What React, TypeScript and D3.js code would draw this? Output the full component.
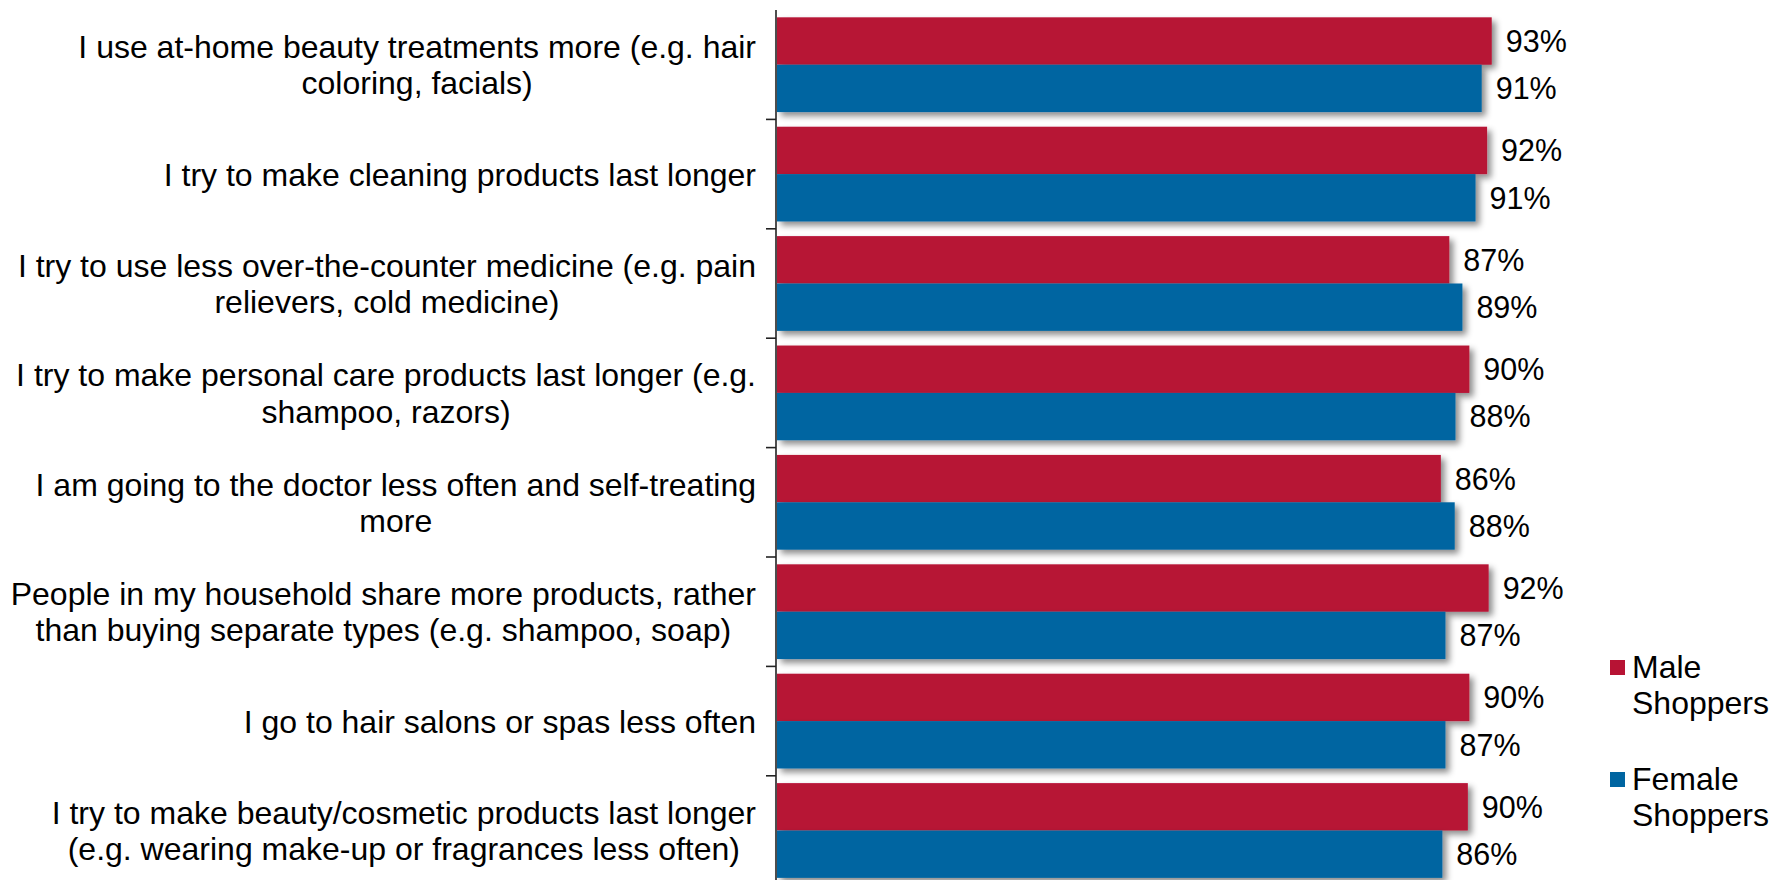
import React, { useEffect, useRef } from "react";
import * as d3 from "d3";

const categories = [
  "I use at-home beauty treatments more (e.g. hair\ncoloring, facials)",
  "I try to make cleaning products last longer",
  "I try to use less over-the-counter medicine (e.g. pain\nrelievers, cold medicine)",
  "I try to make personal care products last longer (e.g.\nshampoo, razors)",
  "I am going to the doctor less often and self-treating\nmore",
  "People in my household share more products, rather\nthan buying separate types (e.g. shampoo, soap)",
  "I go to hair salons or spas less often",
  "I try to make beauty/cosmetic products last longer\n(e.g. wearing make-up or fragrances less often)",
];
const maleValues = [92.7, 92.1, 87.2, 89.8, 86.1, 92.3, 89.8, 89.6];
const femaleValues = [91.4, 90.6, 88.9, 88.0, 87.9, 86.7, 86.7, 86.3];
const maleLabels = ["93%", "92%", "87%", "90%", "86%", "92%", "90%", "90%"];
const femaleLabels = ["91%", "91%", "89%", "88%", "88%", "87%", "87%", "86%"];
const seriesKeys = ["male", "female"];
const seriesNames = ["Male\nShoppers", "Female\nShoppers"];
const seriesColors = ["#B71334", "#0065A1"];
const xDomain = [0, 100];

const W = 1773;
const H = 880;
const FONT = "'Liberation Sans', Arial, sans-serif";

export default function App() {
  const ref = useRef<SVGSVGElement | null>(null);

  useEffect(() => {
    const svg = d3.select(ref.current);
    svg.selectAll("*").remove();

    const step = 109.4;
    const top = 10;
    const y = d3
      .scaleBand<string>()
      .domain(categories)
      .range([top, top + categories.length * step])
      .paddingInner(0.134)
      .paddingOuter(0.067);
    const sub = d3.scaleBand<string>().domain(seriesKeys).range([0, y.bandwidth()]);
    const x = d3.scaleLinear().domain(xDomain).range([777, 1548]);
    const color = d3.scaleOrdinal<string, string>().domain(seriesKeys).range(seriesColors);

    const defs = svg.append("defs");
    const f = defs
      .append("filter")
      .attr("id", "shadow")
      .attr("x", "-5%")
      .attr("y", "-30%")
      .attr("width", "115%")
      .attr("height", "180%");
    f.append("feDropShadow")
      .attr("dx", 4)
      .attr("dy", 4)
      .attr("stdDeviation", 3)
      .attr("flood-color", "#000")
      .attr("flood-opacity", 0.45);

    const rows = categories.map((c, i) => ({
      c,
      vals: [
        { key: "male", v: maleValues[i], label: maleLabels[i] },
        { key: "female", v: femaleValues[i], label: femaleLabels[i] },
      ],
    }));

    const g = svg
      .append("g")
      .selectAll("g")
      .data(rows)
      .join("g")
      .attr("transform", (d) => `translate(0,${y(d.c)})`);

    g.selectAll("rect")
      .data((d) => d.vals)
      .join("rect")
      .attr("x", x(0))
      .attr("y", (d) => sub(d.key)!)
      .attr("width", (d) => x(d.v) - x(0))
      .attr("height", sub.bandwidth())
      .attr("fill", (d) => color(d.key))
      .attr("filter", "url(#shadow)");

    g.selectAll("text")
      .data((d) => d.vals)
      .join("text")
      .attr("x", (d) => x(d.v) + 14)
      .attr("y", (d) => sub(d.key)! + sub.bandwidth() / 2 + 10.9)
      .attr("font-family", FONT)
      .attr("font-size", 30.5)
      .attr("fill", "#000")
      .text((d) => d.label);

    const axis = svg.append("g").attr("stroke", "#222").attr("stroke-width", 1.6);
    axis.append("line").attr("x1", 776).attr("x2", 776).attr("y1", top).attr("y2", H + 20);
    d3.range(1, categories.length + 1).forEach((i) => {
      const yy = top + i * y.step();
      axis.append("line").attr("x1", 766).attr("x2", 776).attr("y1", yy).attr("y2", yy);
    });

    const lineH = 36.5;
    const catFs = 32;
    const rightEdge = 756;
    categories.forEach((c) => {
      const lines = c.split("\n");
      const cy = y(c)! + y.bandwidth() / 2;
      const t = svg
        .append("text")
        .attr("font-family", FONT)
        .attr("font-size", catFs)
        .attr("fill", "#000")
        .attr("text-anchor", "middle");
      const spans = lines.map((ln, k) =>
        t
          .append("tspan")
          .attr("y", cy - ((lines.length - 1) * lineH) / 2 + k * lineH + (0.716 * catFs) / 2)
          .text(ln)
      );
      const maxW = d3.max(spans, (s) => (s.node() as SVGTSpanElement).getComputedTextLength()) || 0;
      spans.forEach((s) => s.attr("x", rightEdge - maxW / 2));
    });

    const legendY = [660, 772];
    seriesKeys.forEach((k, i) => {
      const ly = legendY[i];
      svg
        .append("rect")
        .attr("x", 1610)
        .attr("y", ly)
        .attr("width", 15)
        .attr("height", 15)
        .attr("fill", color(k));
      const t = svg
        .append("text")
        .attr("font-family", FONT)
        .attr("font-size", 32)
        .attr("fill", "#000");
      seriesNames[i].split("\n").forEach((ln, j) => {
        t.append("tspan")
          .attr("x", 1632)
          .attr("y", ly + 18 + j * 36)
          .text(ln);
      });
    });
  }, []);

  return (
    <div style={{ position: "absolute", left: 0, top: 0, width: W, height: H, overflow: "hidden", background: "#fff" }}>
      <svg ref={ref} width={W} height={H} style={{ display: "block" }} />
    </div>
  );
}
